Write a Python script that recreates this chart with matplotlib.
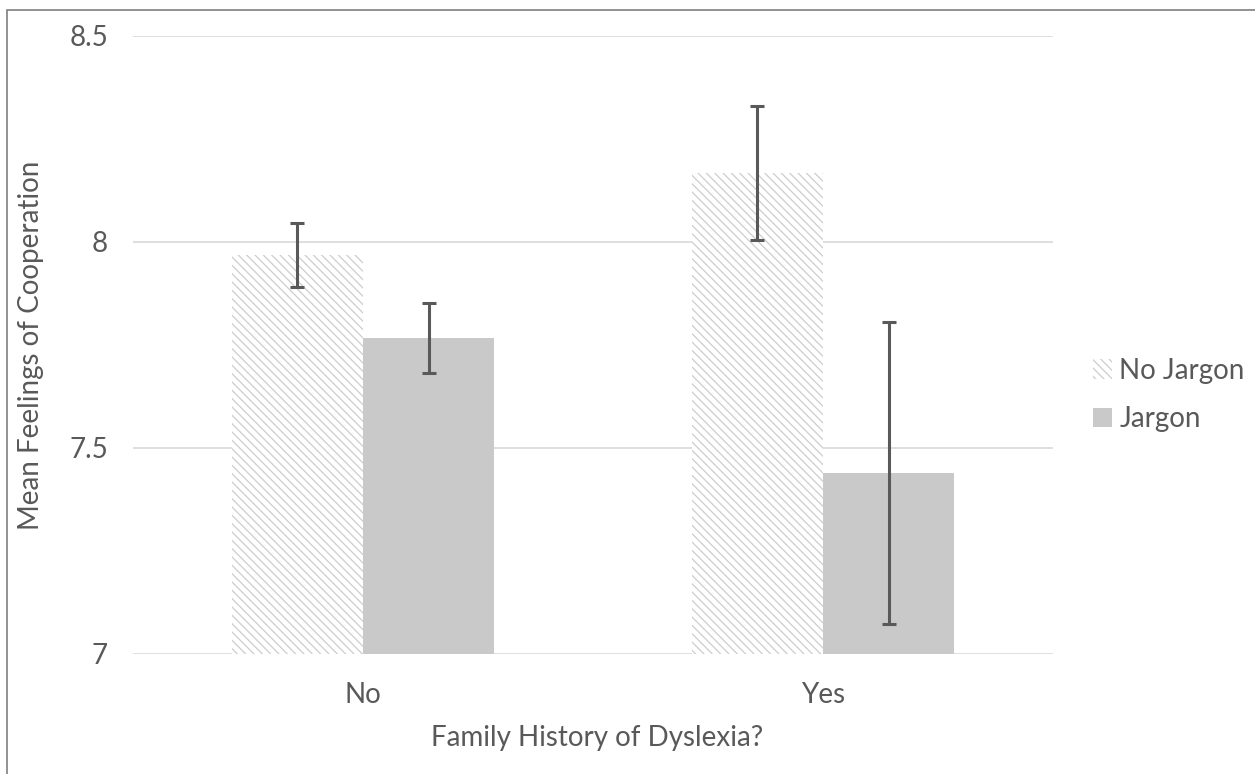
import numpy as np
import matplotlib
matplotlib.use('Agg')
import matplotlib.pyplot as plt
from matplotlib.patches import Rectangle

plt.rcParams['font.family'] = ['Lato', 'DejaVu Sans']
plt.rcParams['hatch.linewidth'] = 0.9

categories = ['No', 'Yes']
series_names = ['No Jargon', 'Jargon']
no_jargon = [7.968, 8.167]
jargon = [7.767, 7.439]
no_jargon_err = [0.077, 0.163]
jargon_err = [0.085, 0.367]

text_col = '#595959'
grid_col = '#d9d9d9'
W, H = 1255, 774

fig = plt.figure(figsize=(12.55, 7.74), dpi=100)
ax = fig.add_axes([133 / W, 1 - 654 / H, 920 / W, 618 / H])

x = np.arange(len(categories))
w = 0.285
ax.bar(x - w / 2, np.array(no_jargon) - 7, w, bottom=7, color='white',
       edgecolor='#cdcdcd', linewidth=0, hatch='\\\\\\\\', label=series_names[0], zorder=2)
ax.bar(x + w / 2, np.array(jargon) - 7, w, bottom=7, color='#c9c9c9',
       linewidth=0, label=series_names[1], zorder=2)
ax.errorbar(x - w / 2, no_jargon, yerr=no_jargon_err, fmt='none', ecolor='#595959',
            elinewidth=2.2, capsize=5, capthick=2.2, zorder=3)
ax.errorbar(x + w / 2, jargon, yerr=jargon_err, fmt='none', ecolor='#595959',
            elinewidth=2.2, capsize=5, capthick=2.2, zorder=3)

ax.set_xlim(-0.5, 1.5)
ax.set_ylim(7, 8.5)
ax.set_yticks([7, 7.5, 8, 8.5])
ax.set_yticklabels(['7', '7.5', '8', '8.5'])
ax.set_xticks(x)
ax.set_xticklabels(categories)
ax.grid(axis='y', color=grid_col, linewidth=1.2, zorder=0)
for s in ax.spines.values():
    s.set_visible(False)
ax.tick_params(axis='both', length=0, labelsize=20, colors=text_col)
ax.tick_params(axis='x', pad=20)
ax.tick_params(axis='y', pad=18)

fig.text(597 / W, 1 - 738 / H, 'Family History of Dyslexia?', fontsize=20,
         color=text_col, ha='center', va='center')
fig.text(31 / W, 1 - 345 / H, 'Mean Feelings of Cooperation', fontsize=20,
         color=text_col, ha='center', va='center', rotation=90)

leg = ax.legend(loc='center left', bbox_to_anchor=(1093 / W, 1 - 395 / H),
                bbox_transform=fig.transFigure, frameon=False, borderpad=0,
                borderaxespad=0, fontsize=20, handlelength=0.7, handleheight=0.7,
                handletextpad=0.25, labelspacing=0.8)
for t in leg.get_texts():
    t.set_color(text_col)

fig.patches.append(Rectangle((7 / W, -0.1), 1.2, 1 - 10 / H + 0.1,
                             transform=fig.transFigure, fill=False,
                             edgecolor='#7f7f7f', linewidth=1.2))

fig.savefig('out.png', dpi=100)
